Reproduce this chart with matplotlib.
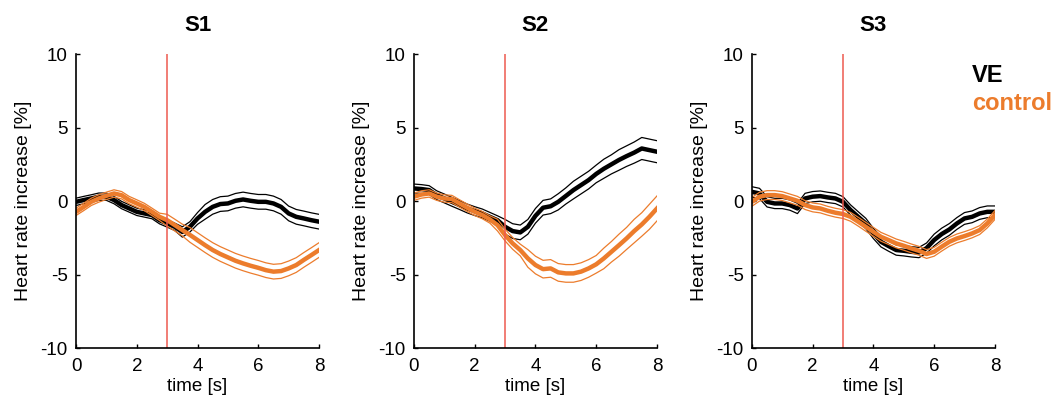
import numpy as np
import matplotlib
matplotlib.use('Agg')
import matplotlib.pyplot as plt

plt.rcParams['font.family'] = ['Liberation Sans', 'DejaVu Sans']
plt.rcParams['axes.unicode_minus'] = False

# time axis, 0.25 s steps
t = np.arange(33) * 0.25

titles = ['S1', 'S2', 'S3']

# mean heart rate increase [%]
ve_s1 = [-0.05, 0.07, 0.18, 0.3, 0.3, 0.07, -0.27, -0.5, -0.73, -0.84, -0.95, -1.3, -1.52,
         -1.75, -2.1, -1.75, -1.18, -0.73, -0.39, -0.2, -0.16, 0.02, 0.11, 0.02, -0.05,
         -0.05, -0.16, -0.39, -0.84, -1.07, -1.18, -1.3, -1.4]
ctl_s1 = [-0.73, -0.4, -0.05, 0.18, 0.36, 0.52, 0.4, 0.07, -0.16, -0.4, -0.73, -1.07, -1.3,
          -1.63, -1.97, -2.3, -2.65, -3.0, -3.33, -3.6, -3.83, -4.06, -4.24, -4.4, -4.54,
          -4.7, -4.8, -4.76, -4.58, -4.35, -4.0, -3.67, -3.33]
ve_s2 = [0.86, 0.82, 0.75, 0.4, 0.18, -0.05, -0.27, -0.5, -0.68, -0.84, -1.07, -1.3, -1.75,
         -2.04, -2.13, -1.75, -1.0, -0.45, -0.35, -0.05, 0.35, 0.75, 1.09, 1.43, 1.85,
         2.2, 2.5, 2.8, 3.06, 3.3, 3.58, 3.47, 3.36]
ctl_s2 = [0.3, 0.45, 0.52, 0.3, 0.18, 0.14, -0.16, -0.45, -0.73, -0.95, -1.25, -1.63, -2.31,
          -2.88, -3.33, -3.9, -4.35, -4.63, -4.58, -4.85, -4.92, -4.92, -4.8, -4.58, -4.3,
          -3.9, -3.45, -3.0, -2.54, -2.04, -1.59, -1.07, -0.5]
ve_s3 = [0.63, 0.52, -0.05, -0.16, -0.16, -0.27, -0.5, 0.18, 0.3, 0.34, 0.25, 0.18, -0.05,
         -0.61, -1.07, -1.52, -2.2, -2.77, -3.06, -3.33, -3.38, -3.45, -3.5, -3.2, -2.65,
         -2.24, -1.93, -1.52, -1.18, -1.07, -0.84, -0.73, -0.73]
ctl_s3 = [-0.05, 0.3, 0.41, 0.41, 0.34, 0.18, 0.02, -0.27, -0.43, -0.5, -0.66, -0.79, -0.88,
          -1.07, -1.4, -1.75, -2.09, -2.43, -2.65, -2.88, -3.04, -3.22, -3.38, -3.6, -3.45,
          -3.1, -2.77, -2.54, -2.38, -2.2, -1.97, -1.52, -0.95]

# standard errors
ve_se_s1 = [0.25] * 14 + [0.35, 0.35, 0.4] + [0.5] * 16
ctl_se_s1 = [0.25] * 12 + [0.4, 0.4, 0.4] + [0.5] * 18
ve_se_s2 = [0.3] * 12 + [0.5] * 7 + [0.55, 0.55, 0.6, 0.6, 0.6, 0.6] + [0.65, 0.65, 0.7, 0.7, 0.72, 0.75, 0.75, 0.75]
ctl_se_s2 = [0.25] * 11 + [0.4] * 4 + [0.6] * 10 + [0.7, 0.7, 0.75, 0.75, 0.8, 0.8, 0.85, 0.85]
ve_se_s3 = [0.35] * 24 + [0.4] * 9
ctl_se_s3 = [0.3] * 33

ve = [ve_s1, ve_s2, ve_s3]
ctl = [ctl_s1, ctl_s2, ctl_s3]
ve_se = [ve_se_s1, ve_se_s2, ve_se_s3]
ctl_se = [ctl_se_s1, ctl_se_s2, ctl_se_s3]

orange = '#ec7c2c'
red = '#ee5a4f'

fig = plt.figure(figsize=(10.62, 4.01), dpi=100)
lefts = [0.0716, 0.3898, 0.708]

for i in range(3):
    ax = fig.add_axes([lefts[i], 0.132, 0.2288, 0.733])
    for m, s, c in [(ve[i], ve_se[i], 'black'), (ctl[i], ctl_se[i], orange)]:
        m = np.array(m)
        s = np.array(s)
        ax.plot(t, m + s, color=c, lw=0.9)
        ax.plot(t, m - s, color=c, lw=0.9)
        ax.plot(t, m, color=c, lw=3.2)
    ax.axvline(3, color=red, lw=1.1)
    ax.set_xlim(0, 8)
    ax.set_ylim(-10, 10)
    ax.set_xticks([0, 2, 4, 6, 8])
    ax.set_yticks([-10, -5, 0, 5, 10])
    ax.spines['top'].set_visible(False)
    ax.spines['right'].set_visible(False)
    ax.spines['left'].set_linewidth(1.2)
    ax.spines['bottom'].set_linewidth(1.2)
    ax.tick_params(direction='in', length=3, width=1.0, labelsize=13.5)
    ax.tick_params(axis='x', pad=7)
    ax.tick_params(axis='y', pad=6)
    ax.set_xlabel('time [s]', fontsize=13.5, labelpad=2)
    ax.set_ylabel('Heart rate increase [%]', fontsize=14, labelpad=6)
    ax.set_title(titles[i], fontsize=16, fontweight='bold', pad=17)

fig.text(0.915, 0.812, 'VE', color='black', fontsize=17, fontweight='bold', va='center')
fig.text(0.915, 0.742, 'control', color=orange, fontsize=17, fontweight='bold', va='center')

fig.savefig('out.png', dpi=100)
